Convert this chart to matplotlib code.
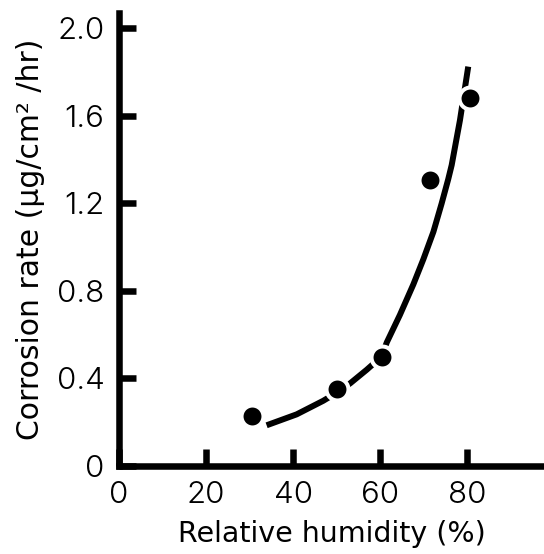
import matplotlib
matplotlib.use("Agg")
import matplotlib.pyplot as plt

plt.rcParams['font.family'] = ['Inter', 'DejaVu Sans']
plt.rcParams['font.weight'] = 300

# Measured data points
humidity = [30.5, 50.0, 60.3, 71.4, 80.6]
rate = [0.23, 0.35, 0.497, 1.307, 1.68]

# Fitted curve
curve_x = [33.9, 40.8, 46.9, 50.0, 53.1, 56.9, 60.3, 61.5, 64.5, 67.6, 69.9,
           72.2, 74.1, 75.6, 76.4, 78.3, 80.2]
curve_y = [0.186, 0.236, 0.298, 0.335, 0.378, 0.44, 0.50, 0.565, 0.69, 0.83, 0.945,
           1.07, 1.20, 1.31, 1.375, 1.58, 1.825]

xticks = [0, 20, 40, 60, 80]
yticks = [0, 0.4, 0.8, 1.2, 1.6, 2.0]
ytick_labels = ["0", "0.4", "0.8", "1.2", "1.6", "2.0"]

W, H = 544, 554
fig = plt.figure(figsize=(W / 100, H / 100), dpi=100)
ax = fig.add_axes([119 / W, 1 - 466 / H, 1 - 119 / W, (466 - 13) / H])

ax.plot(curve_x, curve_y, color='black', lw=4.3, solid_capstyle='butt', zorder=2)
ax.plot(humidity, rate, linestyle='none', marker='o', markersize=15.8,
        markerfacecolor='black', markeredgecolor='white', markeredgewidth=2.9,
        zorder=3, clip_on=False)

ax.set_xlim(0, 97.6)
ax.set_ylim(0, 2.07)

for s in ['top', 'right']:
    ax.spines[s].set_visible(False)
for s in ['left', 'bottom']:
    ax.spines[s].set_linewidth(4.7)
    ax.spines[s].set_capstyle('projecting')

ax.set_xticks(xticks)
ax.set_xticklabels([str(t) for t in xticks])
ax.set_yticks(yticks)
ax.set_yticklabels(ytick_labels)
ax.tick_params(axis='both', direction='in', length=12, width=4.7, labelsize=22.5,
               colors='black')
ax.tick_params(axis='y', pad=10.5)
ax.tick_params(axis='x', pad=11)

ax.set_xlabel("Relative humidity (%)", labelpad=7.5, family=['DejaVu Sans'],
              fontsize=20.5, fontweight='normal')
ax.set_ylabel("Corrosion rate (μg/cm² /hr)", labelpad=8, family=['DejaVu Sans'],
              fontsize=21.5, fontweight='normal')

fig.savefig("out.png", dpi=100)
